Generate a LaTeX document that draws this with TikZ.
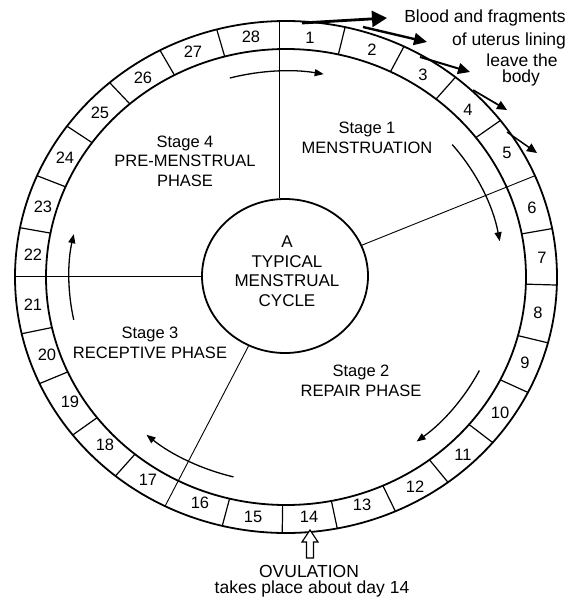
\documentclass[tikz,border=0pt]{standalone}
\usepackage{fontspec}
\setmainfont{Liberation Sans}
\usetikzlibrary{arrows.meta,shapes.geometric}
\begin{document}
\begin{tikzpicture}[x=1pt,y=-1pt,
  ringline/.style={line width=1.8pt},
  divider/.style={line width=1.2pt},
  stageline/.style={line width=0.9pt},
  flow/.style={line width=1.3pt,-{Triangle[length=9pt,width=7pt]}},
  blood/.style={line width=#1pt},
  lbl/.style={font=\fontsize{16.5}{19.5}\selectfont, align=center, inner sep=0pt},
  toplbl/.style={font=\fontsize{17.5}{20}\selectfont, inner sep=0pt},
  daynum/.style={font=\fontsize{16.5}{19}\selectfont, inner sep=0pt},
]
\useasboundingbox (0,0) rectangle (571,600);
\fill[white] (0,0) rectangle (571,600);

% ring, dividers and flow arrows (local y up)
\begin{scope}[shift={(286,277)}, yscale=-1]
  \draw[ringline] (0,0) ellipse [x radius=271, y radius=256];
  \draw[ringline] (0,0) ellipse [x radius=240, y radius=228];
  \foreach \a in {77.4,64.2,51.3,37.7,10.9,-1.8,-14.9,-26.8,-40.3,-53.3,-66.2,-79.1,-90.8,-103.6,-129,-141.9,-155.4,-167.2,168.9,156.7,143.9,130.6,117.7,104.8}
    \draw[divider] (\a:240 and 228) -- (\a:271 and 256);
  \coordinate (stop) at (91.3:271 and 256);
  \coordinate (sright) at (23.3:271 and 256);
  \coordinate (sleft) at (179.8:271 and 256);
  \coordinate (slow) at (-116.5:271 and 256);
  \draw[flow] (105:217 and 206) arc[start angle=105, end angle=80, x radius=217, y radius=206];
  \draw[flow] (40:217 and 206) arc[start angle=40, end angle=10, x radius=217, y radius=206];
  \draw[flow] (-27:217 and 206) arc[start angle=-27, end angle=-53, x radius=217, y radius=206];
  \draw[flow] (-104:217 and 206) arc[start angle=-104, end angle=-130, x radius=217, y radius=206];
  \draw[flow] (192:217 and 206) arc[start angle=192, end angle=168, x radius=217, y radius=206];
\end{scope}

% central circle
\node[draw, ellipse, line width=1.8pt, minimum width=166pt, minimum height=154pt, inner sep=0pt] (cyc) at (285,276) {};
\node[lbl, font=\fontsize{17}{19.5}\selectfont] (cyct) at (287,271) {A\\TYPICAL\\MENSTRUAL\\CYCLE};

% stage lines
\draw[stageline] (stop) -- (stop |- cyc.north);
\draw[stageline] (sleft) -- (sleft -| cyc.west);
\draw[stageline] (sright) -- (cyc);
\draw[stageline] (slow) -- (cyc);

% stage labels
\node[lbl] (st4) at (185,161) {Stage 4\\PRE-MENSTRUAL\\PHASE};
\node[lbl] (st1) at (367,138) {Stage 1\\MENSTRUATION};
\node[lbl] (st2) at (361,381) {Stage 2\\REPAIR PHASE};
\node[lbl] (st3) at (150,343) {Stage 3\\RECEPTIVE PHASE};

% day numbers
\foreach \n/\x/\y in {1/310/38,2/372/50,3/423/75,4/468/110,5/507/153,6/532/208,7/542/258,8/538/313,9/525/363,10/500/413,11/463/455,12/415/487,13/362/505,14/309/517,15/253/517,16/200/503,17/148/480,18/105/445,19/70/402,20/47/355,21/33/305,22/33/255,23/43/207,24/65/158,25/100/113,26/143/78,27/193/52,28/251/37}
  \node[daynum] (d\n) at (\x,\y) {\n};

% blood arrows
\coordinate (b1s) at (302,23); \coordinate (b1e) at (387,18);
\coordinate (b2s) at (363,27); \coordinate (b2e) at (427,42);
\coordinate (b3s) at (420,57); \coordinate (b3e) at (470,72);
\coordinate (b4s) at (473,90); \coordinate (b4e) at (507,110);
\coordinate (b5s) at (507,132); \coordinate (b5e) at (537,153);
\draw[blood=2.8, -{Triangle[length=15pt,width=16pt]}] (b1s) -- (b1e);
\draw[blood=2.4, -{Triangle[length=13pt,width=12pt]}] (b2s) -- (b2e);
\draw[blood=2, -{Triangle[length=12pt,width=11pt]}] (b3s) -- (b3e);
\draw[blood=1.7, -{Triangle[length=10pt,width=9pt]}] (b4s) -- (b4e);
\draw[blood=1.5, -{Triangle[length=10pt,width=9pt]}] (b5s) -- (b5e);

\node[toplbl] (bl1) at (485,18) {Blood and fragments};
\node[toplbl] (bl2) at (509,41) {of uterus lining};
\node[toplbl] (bl3) at (522,60) {leave the};
\node[toplbl] (bl4) at (521,78) {body};

% ovulation arrow
\coordinate (ovtip) at (310,530);
\draw[line width=1.2pt, fill=white] (ovtip) -- (302,542) -- (306.5,542) -- (306.5,558) -- (313.5,558) -- (313.5,542) -- (318,542) -- cycle;
\node[toplbl, anchor=base] (ov1) at (309,577) {OVULATION};
\node[toplbl, anchor=base] (ov2) at (312,593) {takes place about day 14};
\end{tikzpicture}
\end{document}
